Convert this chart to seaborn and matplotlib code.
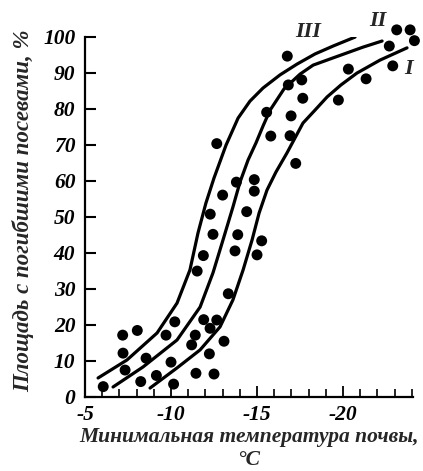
import numpy as np
import pandas as pd
import matplotlib
matplotlib.use("Agg")
import matplotlib.pyplot as plt
import seaborn as sns
from matplotlib.ticker import MultipleLocator, FuncFormatter

# ---- data ----
dot_temp = [-6.06, -7.19, -8.04, -7.21, -7.33, -8.55, -8.24, -9.15, -9.71, -10.22,
            -10.0, -10.15, -11.2, -11.41, -11.45, -11.9, -12.27, -12.66, -12.23, -12.5,
            -13.08, -13.33, -11.52, -11.88, -12.44, -13.88, -13.72, -15.0, -15.27, -12.66,
            -13.0, -12.28, -13.8, -14.84, -14.84, -14.4, -15.56, -15.8, -16.76, -16.82,
            -17.6, -17.66, -16.98, -16.92, -17.25, -19.73, -20.31, -21.34, -22.69, -22.89,
            -23.12, -23.9, -24.15]
dot_area = [2.8, 17.1, 18.4, 12.1, 7.4, 10.7, 4.2, 5.9, 17.1, 20.8,
            9.6, 3.5, 14.4, 17.1, 6.5, 21.4, 19.0, 21.3, 11.9, 6.3,
            15.4, 28.6, 34.9, 39.2, 45.1, 45.0, 40.5, 39.4, 43.3, 70.3,
            56.0, 50.7, 59.6, 60.3, 57.1, 51.4, 79.0, 72.4, 94.6, 86.6,
            88.0, 82.9, 78.0, 72.5, 64.8, 82.4, 91.0, 88.3, 97.4, 91.9,
            101.9, 101.9, 98.9]

curve3_temp = [-5.76, -7.44, -9.19, -10.35, -11.1, -11.57, -12.03, -12.5, -13.2, -13.9,
               -14.59, -15.35, -16.34, -17.33, -18.37, -19.42, -20.7]
curve3_area = [5.2, 10.2, 17.7, 26.0, 35.2, 45.5, 53.8, 60.75, 69.9, 77.4,
               82.1, 85.75, 89.4, 92.4, 95.2, 97.4, 99.9]

curve2_temp = [-6.63, -8.37, -10.35, -11.69, -12.44, -13.02, -13.6, -14.01, -14.48, -14.94,
               -15.35, -15.76, -16.57, -17.5, -18.26, -19.24, -20.23, -21.16, -22.27]
curve2_area = [2.7, 8.25, 15.75, 24.9, 34.4, 43.5, 52.7, 59.6, 65.75, 70.5,
               75.2, 79.6, 85.5, 89.6, 92.1, 93.8, 95.5, 97.1, 98.8]

curve1_temp = [-8.78, -10.35, -11.69, -12.85, -13.6, -14.19, -14.71, -15.12, -15.58, -16.1,
               -16.74, -17.67, -18.37, -19.07, -19.88, -20.81, -22.15, -23.72]
curve1_area = [2.4, 8.0, 13.0, 19.4, 26.9, 35.2, 43.5, 51.0, 57.4, 62.4,
               67.7, 76.0, 79.6, 83.25, 86.6, 89.9, 93.5, 96.9]

curve_names = ["I", "II", "III"]
curve_label_temp = [-23.8, -22.0, -18.0]
curve_label_area = [91.0, 104.4, 101.3]

y_ticks = [0, 10, 20, 30, 40, 50, 60, 70, 80, 90, 100]
x_major = [-5, -10, -15, -20]

x_label = "Минимальная температура почвы,\n°C"
y_label = "Площадь с погибшими посевами, %"

# ---- style ----
sns.set_style("ticks")
plt.rcParams["font.family"] = ["Liberation Serif", "DejaVu Serif"]
plt.rcParams["font.style"] = "italic"
plt.rcParams["font.weight"] = "bold"
plt.rcParams["axes.unicode_minus"] = False

fig = plt.figure(figsize=(4.23, 4.71), dpi=100)
ax = fig.add_axes([85 / 423, 74.3 / 471, 327.7 / 423, 360 / 471])

curves = pd.concat([
    pd.DataFrame({"t": curve1_temp, "a": curve1_area, "c": "I"}),
    pd.DataFrame({"t": curve2_temp, "a": curve2_area, "c": "II"}),
    pd.DataFrame({"t": curve3_temp, "a": curve3_area, "c": "III"}),
])
for name, sub in curves.groupby("c"):
    sns.lineplot(data=sub, x="t", y="a", sort=False, color="black", lw=2.3,
                 ax=ax, legend=False, estimator=None)
for ln in ax.lines:
    ln.set_solid_joinstyle("round")
    ln.set_solid_capstyle("round")

dots = pd.DataFrame({"t": dot_temp, "a": dot_area})
sns.scatterplot(data=dots, x="t", y="a", color="black", s=62, edgecolor="none",
                ax=ax, legend=False, clip_on=False, zorder=5)

for n, tx, ty in zip(curve_names, curve_label_temp, curve_label_area):
    ax.text(tx, ty, n, ha="center", va="center", fontsize=16, style="italic",
            weight="bold", family="Liberation Serif", clip_on=False)

ax.set_xlim(-5, -24.05)
ax.set_ylim(0, 100)
sns.despine(ax=ax)
for sp in ["left", "bottom"]:
    ax.spines[sp].set_linewidth(1.6)
    ax.spines[sp].set_color("black")

ax.set_yticks(y_ticks)
ax.set_xticks(x_major)
ax.xaxis.set_minor_locator(MultipleLocator(1))
ax.xaxis.set_major_formatter(FuncFormatter(lambda v, p: "-%d" % abs(v)))
ax.tick_params(axis="y", direction="in", length=8, width=1.5, pad=7,
               labelsize=15.5, colors="black")
ax.tick_params(axis="x", which="major", direction="in", length=8, width=1.3,
               pad=6, labelsize=15.5, colors="black")
ax.tick_params(axis="x", which="minor", direction="in", length=5.5, width=1.2,
               colors="black")
for lab in ax.get_xticklabels() + ax.get_yticklabels():
    lab.set_fontstyle("italic")
    lab.set_fontweight("bold")
    lab.set_fontfamily("Liberation Serif")

ax.set_xlabel(x_label, fontsize=15.5, linespacing=1.2, style="italic", weight="bold")
ax.xaxis.set_label_coords(0.5, -0.085)
ax.xaxis.label.set_va("top")
ax.set_ylabel(y_label, fontsize=16.5, style="italic", weight="bold")
ax.yaxis.set_label_coords(-0.19, 0.517)
ax.yaxis.label.set_va("center")

fig.savefig("out.png", dpi=100)
